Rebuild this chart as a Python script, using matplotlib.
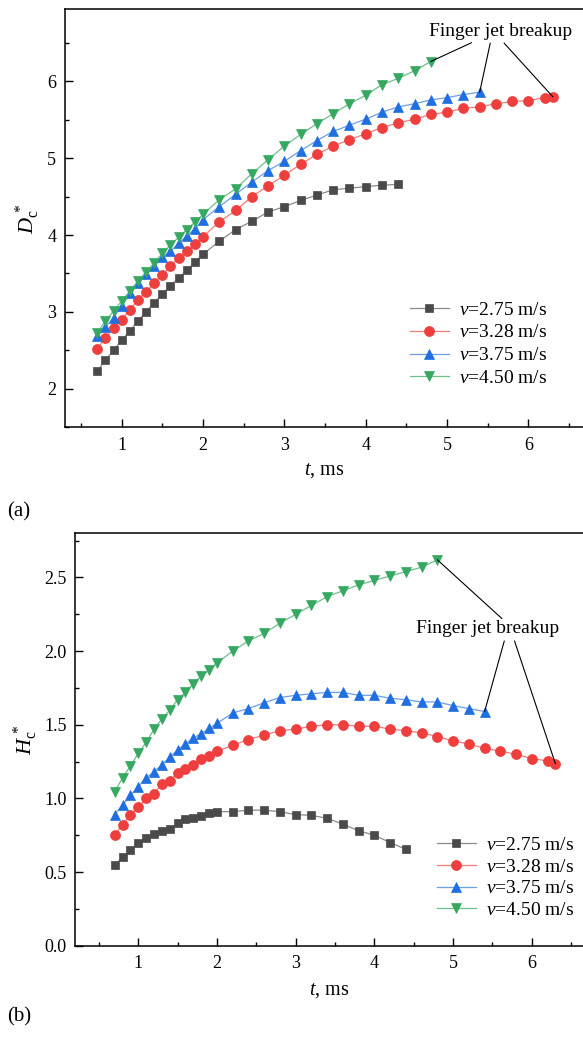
import matplotlib
matplotlib.use("Agg")
import matplotlib.pyplot as plt
from matplotlib.ticker import MultipleLocator

plt.rcParams['font.family'] = ['Liberation Serif', 'DejaVu Serif']
plt.rcParams['mathtext.fontset'] = 'custom'
plt.rcParams['mathtext.rm'] = 'Liberation Serif'
plt.rcParams['mathtext.it'] = 'Liberation Serif:italic'
plt.rcParams['mathtext.bf'] = 'Liberation Serif:bold'

# ---------------- data ----------------
labels = [r"$v$=2.75 m/s", r"$v$=3.28 m/s", r"$v$=3.75 m/s", r"$v$=4.50 m/s"]

t_fine = [0.7, 0.8, 0.9, 1.0, 1.1, 1.2, 1.3, 1.4, 1.5, 1.6, 1.7, 1.8, 1.9, 2.0]
t_black = t_fine + [2.2, 2.4, 2.6, 2.8, 3.0, 3.2, 3.4, 3.6, 3.8, 4.0, 4.2, 4.4]
t_red = t_fine + [2.2, 2.4, 2.6, 2.8, 3.0, 3.2, 3.4, 3.6, 3.8, 4.0, 4.2, 4.4,
                  4.6, 4.8, 5.0, 5.2, 5.4, 5.6, 5.8, 6.0, 6.2, 6.3]
t_blue = t_fine + [2.2, 2.4, 2.6, 2.8, 3.0, 3.2, 3.4, 3.6, 3.8, 4.0, 4.2, 4.4,
                   4.6, 4.8, 5.0, 5.2, 5.4]
t_green = t_fine + [2.2, 2.4, 2.6, 2.8, 3.0, 3.2, 3.4, 3.6, 3.8, 4.0, 4.2, 4.4,
                    4.6, 4.8]

# (a) D_c*
D_black = [2.23, 2.37, 2.50, 2.63, 2.75, 2.88, 3.00, 3.12, 3.23, 3.34, 3.44, 3.54, 3.65, 3.75,
           3.92, 4.07, 4.18, 4.30, 4.37, 4.45, 4.52, 4.59, 4.61, 4.63, 4.65, 4.66]
D_red = [2.52, 2.66, 2.79, 2.90, 3.02, 3.16, 3.26, 3.38, 3.48, 3.60, 3.70, 3.79, 3.88, 3.98,
         4.17, 4.32, 4.50, 4.64, 4.78, 4.92, 5.05, 5.16, 5.24, 5.32, 5.40, 5.46, 5.51, 5.57,
         5.60, 5.65, 5.67, 5.71, 5.74, 5.75, 5.79, 5.80]
D_blue = [2.68, 2.80, 2.92, 3.08, 3.24, 3.37, 3.49, 3.60, 3.71, 3.79, 3.89, 3.99, 4.08, 4.20,
          4.37, 4.53, 4.69, 4.84, 4.96, 5.10, 5.23, 5.35, 5.43, 5.51, 5.60, 5.67, 5.71, 5.76,
          5.79, 5.83, 5.86]
D_green = [2.73, 2.88, 3.01, 3.14, 3.27, 3.40, 3.52, 3.64, 3.76, 3.87, 3.97, 4.07, 4.17, 4.27,
           4.46, 4.60, 4.80, 4.98, 5.16, 5.31, 5.45, 5.58, 5.71, 5.82, 5.96, 6.04, 6.14, 6.26]

# (b) H_c*
H_black = [0.55, 0.60, 0.65, 0.70, 0.73, 0.76, 0.78, 0.79, 0.83, 0.86, 0.87, 0.88, 0.90, 0.91,
           0.91, 0.92, 0.92, 0.91, 0.89, 0.885, 0.865, 0.825, 0.78, 0.75, 0.70, 0.655]
H_red = [0.75, 0.82, 0.89, 0.94, 1.00, 1.03, 1.10, 1.12, 1.17, 1.20, 1.23, 1.27, 1.29, 1.32,
         1.36, 1.40, 1.43, 1.46, 1.47, 1.49, 1.50, 1.50, 1.49, 1.49, 1.47, 1.46, 1.445, 1.42,
         1.39, 1.37, 1.34, 1.32, 1.30, 1.27, 1.255, 1.235]
H_blue = [0.89, 0.955, 1.02, 1.08, 1.14, 1.18, 1.23, 1.28, 1.33, 1.37, 1.41, 1.44, 1.475, 1.51,
          1.58, 1.61, 1.65, 1.685, 1.70, 1.71, 1.72, 1.72, 1.70, 1.70, 1.68, 1.67, 1.655, 1.655,
          1.63, 1.61, 1.59]
H_green = [1.045, 1.14, 1.22, 1.305, 1.38, 1.47, 1.54, 1.60, 1.67, 1.72, 1.78, 1.83, 1.87, 1.92,
           2.00, 2.07, 2.12, 2.19, 2.25, 2.31, 2.37, 2.41, 2.45, 2.48, 2.51, 2.54, 2.57, 2.62]

annot_text = "Finger jet breakup"

# ---------------- style ----------------
marker_colors = ['#4a4a4a', '#ee3e3e', '#1f6fe0', '#36a862']
line_colors = ['#8a8a8a', '#f27a7a', '#6b9fe8', '#6cc08c']
markers = ['s', 'o', '^', 'v']
msizes = [6.4, 7.2, 7.8, 7.8]

fig = plt.figure(figsize=(5.83, 10.39), dpi=100)
W, H = 583.0, 1039.0


def add_axes_px(left, top, right, bottom):
    return fig.add_axes([left / W, 1 - bottom / H, (right - left) / W, (bottom - top) / H])


ax1 = add_axes_px(64.7, 9.3, 583.0, 427.0)
ax2 = add_axes_px(75.3, 533.3, 583.0, 945.7)


def style_axes(ax):
    ax.spines['right'].set_visible(False)
    for s in ['left', 'bottom', 'top']:
        ax.spines[s].set_linewidth(1.1)
    ax.tick_params(which='both', direction='in', top=False, right=False, labelsize=13,
                   width=1.0)
    ax.tick_params(which='major', length=5.5, pad=6)
    ax.tick_params(which='minor', length=2.8)
    ax.tick_params(axis='x', which='major', pad=7)


def draw(ax, ts, ys):
    handles = []
    for i, (t, y) in enumerate(zip(ts, ys)):
        h, = ax.plot(t, y, '-', color=line_colors[i], lw=0.9, marker=markers[i],
                     markersize=msizes[i], markerfacecolor=marker_colors[i],
                     markeredgecolor=marker_colors[i], markeredgewidth=0.5,
                     label=labels[i])
        handles.append(h)
    return handles


ts = [t_black, t_red, t_blue, t_green]

# ---- panel (a)
draw(ax1, ts, [D_black, D_red, D_blue, D_green])
style_axes(ax1)
ax1.set_xlim(0.3, 6.67)
ax1.set_ylim(1.5, 6.94)
ax1.xaxis.set_major_locator(MultipleLocator(1))
ax1.xaxis.set_minor_locator(MultipleLocator(0.5))
ax1.yaxis.set_major_locator(MultipleLocator(1))
ax1.yaxis.set_minor_locator(MultipleLocator(0.5))
ax1.set_xlabel(r"$t$, ms", fontsize=14.5, labelpad=5)
ax1.set_ylabel(r"$D_{\mathrm{c}}^{\,*}$", fontsize=16, labelpad=4)
ax1.legend(loc='upper left', bbox_to_anchor=(410 / W, 1 - 301 / H),
           bbox_transform=fig.transFigure, frameon=False, fontsize=14,
           handlelength=2.0, handletextpad=0.5, labelspacing=0.27,
           borderpad=0, borderaxespad=0)

ax1.text(5.655, 6.65, annot_text, fontsize=14, ha='center', va='center')
ends_a = [(t_green[-1], D_green[-1]), (t_blue[-1], D_blue[-1]), (t_red[-1], D_red[-1])]
starts_a = [(5.30, 6.505), (5.53, 6.50), (5.70, 6.50)]
for s, e in zip(starts_a, ends_a):
    ax1.annotate('', xy=e, xytext=s, arrowprops=dict(arrowstyle='-', lw=0.8, color='black',
                                                     shrinkA=0, shrinkB=0))

# ---- panel (b)
draw(ax2, ts, [H_black, H_red, H_blue, H_green])
style_axes(ax2)
ax2.set_xlim(0.2, 6.65)
ax2.set_ylim(0.0, 2.8)
ax2.xaxis.set_major_locator(MultipleLocator(1))
ax2.xaxis.set_minor_locator(MultipleLocator(0.5))
ax2.yaxis.set_major_locator(MultipleLocator(0.5))
ax2.yaxis.set_minor_locator(MultipleLocator(0.25))
ax2.yaxis.set_major_formatter(matplotlib.ticker.FormatStrFormatter('%.1f'))
ax2.set_xlabel(r"$t$, ms", fontsize=14.5, labelpad=6)
ax2.set_ylabel(r"$H_{\mathrm{c}}^{\,*}$", fontsize=16, labelpad=3)
ax2.legend(loc='upper left', bbox_to_anchor=(437 / W, 1 - 836 / H),
           bbox_transform=fig.transFigure, frameon=False, fontsize=14,
           handlelength=2.0, handletextpad=0.5, labelspacing=0.22,
           borderpad=0, borderaxespad=0)

ax2.text(5.436, 2.153, annot_text, fontsize=14, ha='center', va='center')
ends_b = [(t_green[-1], H_green[-1]), (t_blue[-1], H_blue[-1]), (t_red[-1], H_red[-1])]
starts_b = [(5.62, 2.221), (5.65, 2.069), (5.78, 2.069)]
for s, e in zip(starts_b, ends_b):
    ax2.annotate('', xy=e, xytext=s, arrowprops=dict(arrowstyle='-', lw=0.8, color='black',
                                                     shrinkA=0, shrinkB=0))

fig.text(7 / W, 1 - 512 / H, "(a)", fontsize=15, ha='left', va='center')
fig.text(7 / W, 1 - 1017 / H, "(b)", fontsize=15, ha='left', va='center')

fig.savefig("out.png", dpi=100)
